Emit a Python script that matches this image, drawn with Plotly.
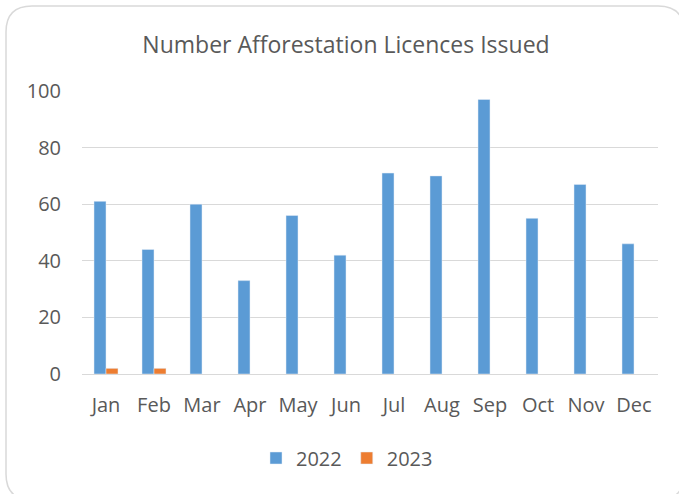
import plotly.graph_objects as go

months = ["Jan", "Feb", "Mar", "Apr", "May", "Jun", "Jul", "Aug", "Sep", "Oct", "Nov", "Dec"]
v2022 = [61, 44, 60, 33, 56, 42, 71, 70, 97, 55, 67, 46]
v2023 = [2, 2, None, None, None, None, None, None, None, None, None, None]
ticks = [0, 20, 40, 60, 80, 100]

W, H = 679, 494
ml, mr, mt, mb = 82, 21, 91, 120
pw, ph = W - ml - mr, H - mt - mb

def px(x):
    return (x - ml) / pw

def py(y):
    return (H - mb - y) / ph

fig = go.Figure()
fig.add_trace(go.Bar(x=months, y=v2022, name="2022", marker_color="#5b9bd5"))
fig.add_trace(go.Bar(x=months, y=v2023, name="2023", marker_color="#ed7d31"))

# rounded border around chart area
L, T, R, B, r = 6, 6, 684, 500, 26
path = (f"M {px(L + r)} {py(T)} L {px(R - r)} {py(T)} Q {px(R)} {py(T)} {px(R)} {py(T + r)} "
        f"L {px(R)} {py(B - r)} Q {px(R)} {py(B)} {px(R - r)} {py(B)} "
        f"L {px(L + r)} {py(B)} Q {px(L)} {py(B)} {px(L)} {py(B - r)} "
        f"L {px(L)} {py(T + r)} Q {px(L)} {py(T)} {px(L + r)} {py(T)} Z")

fig.update_layout(
    width=W, height=H,
    margin=dict(l=ml, r=mr, t=mt, b=mb),
    paper_bgcolor="white", plot_bgcolor="white",
    font=dict(family="Open Sans, Liberation Sans, sans-serif", color="#595959", size=20),
    title=dict(text="Number Afforestation Licences Issued", x=346 / W, xanchor="center",
               xref="container", y=1 - 45 / H, yanchor="middle",
               font=dict(size=23, color="#595959")),
    barmode="group", bargap=0.5, bargroupgap=0,
    xaxis=dict(showgrid=False, showline=True, linecolor="#d9d9d9", linewidth=1,
               ticks="", ticklabelstandoff=13, tickfont=dict(size=20)),
    yaxis=dict(range=[0, 100], tickvals=ticks, showgrid=True, gridcolor="#d9d9d9",
               gridwidth=1, zeroline=False, showline=False, ticks="",
               ticklabelstandoff=20, tickfont=dict(size=20)),
    legend=dict(orientation="h", x=347 / W, xanchor="center", xref="container",
                y=1 - 458 / H, yref="container", yanchor="middle",
                font=dict(size=20), itemwidth=30, traceorder="normal"),
    shapes=[dict(type="path", path=path, xref="paper", yref="paper",
                 line=dict(color="#d9d9d9", width=1.5), layer="below")],
)
fig.write_html("out.html", config={"displayModeBar": False},
               post_script="document.body.style.margin='0';document.body.style.overflow='hidden';")
